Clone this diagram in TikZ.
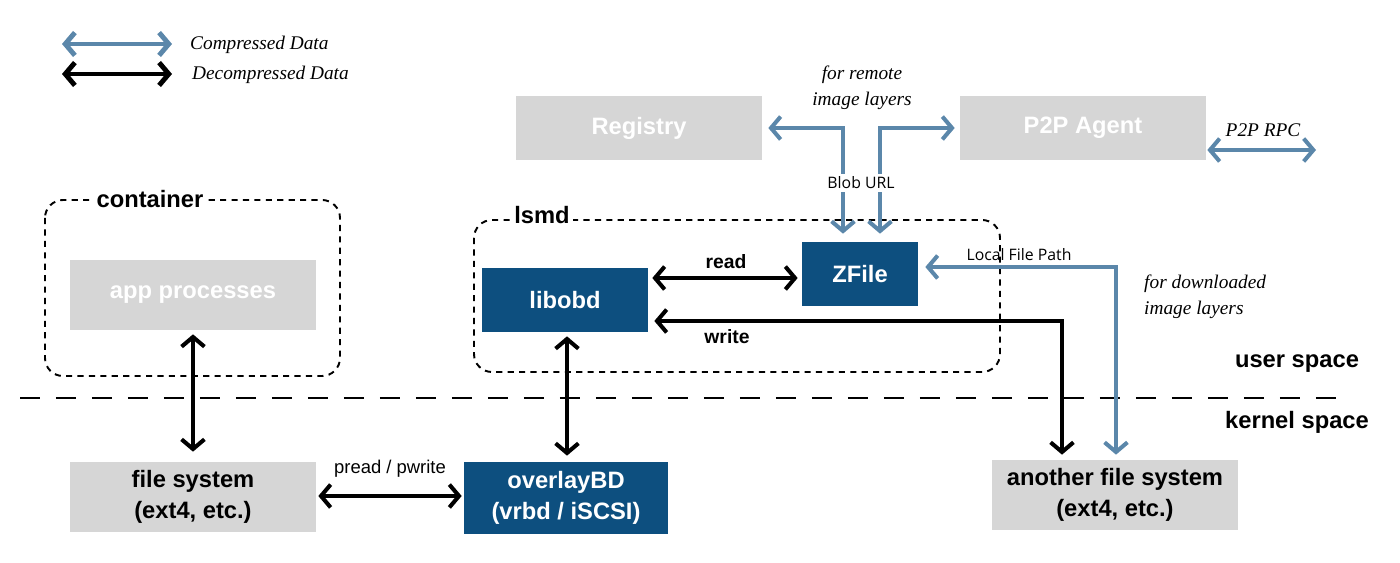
\documentclass[tikz,border=0pt]{standalone}
\usepackage{fontspec}
\setmainfont{Liberation Sans}
\newfontfamily\notefont{Liberation Serif}
\newfontfamily\tagfont{Open Sans}
\usetikzlibrary{arrows.meta}

\definecolor{boxgray}{HTML}{D6D6D6}
\definecolor{obdblue}{HTML}{0D4F7F}
\definecolor{zipblue}{HTML}{5B87AA}

\tikzset{
  box/.style={rectangle, fill=boxgray, text=white, inner sep=0pt, align=center,
    font=\fontsize{13.5}{17.5}\selectfont\bfseries},
  fsbox/.style={box, text=black},
  obdbox/.style={box, fill=obdblue},
  barb/.tip={Straight Barb[length=5.5pt, width=13pt]},
  comp/.style={draw=zipblue, line width=2.3pt, barb-barb},
  dec/.style={draw=black, line width=2.3pt, barb-barb},
  frame/.style={draw, line width=1.1pt, dash pattern=on 3.5pt off 3pt, rounded corners=0.36cm},
  note/.style={font=\notefont\itshape\fontsize{11}{14.7}\selectfont},
  tag/.style={font=\tagfont\fontsize{9}{11}\selectfont},
  op/.style={font=\fontsize{11}{13}\selectfont\bfseries},
}

\begin{document}
\begin{tikzpicture}[x=0.02cm, y=-0.02cm]
  \useasboundingbox (0,0) rectangle (1400,563);

  % legend
  \coordinate (lc1) at (62,44);  \coordinate (lc2) at (172,44);
  \coordinate (ld1) at (62,74);  \coordinate (ld2) at (172,74);
  \draw[comp, line width=2.8pt] (lc1) -- (lc2);
  \draw[dec, line width=2.8pt] (ld1) -- (ld2);
  \node[note, anchor=west] (lgc) at (184,45) {Compressed Data};
  \node[note, anchor=west] (lgd) at (186,75) {Decompressed Data};

  % user / kernel split
  \coordinate (sp1) at (20,398); \coordinate (sp2) at (1340,398);
  \draw[line width=1.4pt, dash pattern=on 0.4cm off 0.32cm] (sp1) -- (sp2);
  \node[font=\fontsize{13.5}{16}\selectfont\bfseries] (us) at (1297,364) {user space};
  \node[font=\fontsize{13.5}{16}\selectfont\bfseries] (ks) at (1297,422) {kernel space};

  % frames
  \draw[frame] (45,200) rectangle (340,376);
  \node[fill=white, inner xsep=2pt, inner ysep=0pt, font=\fontsize{13.5}{16}\selectfont\bfseries]
    (ctr) at (150,199) {container};
  \draw[frame] (474,220) rectangle (1000,372);
  \node[fill=white, inner xsep=2pt, inner ysep=0pt, font=\fontsize{13.5}{16}\selectfont\bfseries]
    (lsmd) at (542,215) {lsmd};

  % boxes
  \node[box, minimum width=4.92cm, minimum height=1.28cm] (reg) at (639,128) {Registry};
  \node[box, minimum width=4.92cm, minimum height=1.28cm] (p2p) at (1083,128) {P2P Agent};
  \node[box, minimum width=4.92cm, minimum height=1.40cm] (app) at (193,295) {app processes};
  \node[fsbox, minimum width=4.92cm, minimum height=1.40cm] (fs) at (193,497) {file system\\(ext4, etc.)};
  \node[obdbox, minimum width=3.32cm, minimum height=1.28cm] (obd) at (565,300) {libobd};
  \node[obdbox, minimum width=2.32cm, minimum height=1.28cm] (zf) at (860,274) {ZFile};
  \node[obdbox, minimum width=4.08cm, minimum height=1.44cm] (ovl) at (566,498) {overlayBD\\(vrbd / iSCSI)};
  \node[fsbox, minimum width=4.92cm, minimum height=1.40cm] (afs) at (1115,495) {another file system\\(ext4, etc.)};

  % compressed paths
  \draw[comp, shorten <=0.12cm, shorten >=0.16cm] (reg.east) -| ([xshift=-0.34cm]zf.north);
  \draw[comp, shorten <=0.1cm, shorten >=0.16cm] (p2p.west) -| ([xshift=0.4cm]zf.north);
  \node[tag, fill=white, inner sep=1.5pt] (blob) at (861,183) {Blob URL};
  \node[note, align=center] (remote) at (862,88) {for remote\\image layers};
  \coordinate (rpc) at (1316,150);
  \draw[comp, shorten <=0.02cm] (p2p.east |- rpc) -- (rpc);
  \node[note] (rpcl) at (1263,130) {P2P RPC};
  \draw[comp, shorten <=0.14cm, shorten >=0.1cm] (zf.east |- 0,267) -| ([xshift=0.02cm]afs.north);
  \node[tag] (lfp) at (1019,255) {Local File Path};
  \node[note, anchor=west, align=left] (dl) at (1138,297) {for downloaded\\image layers};

  % decompressed paths
  \draw[dec, shorten <=0.08cm, shorten >=0.08cm] (obd.east |- 0,278) -- (zf.west |- 0,278);
  \node[op] (rd) at (726,262) {read};
  \draw[dec, shorten <=0.12cm, shorten >=0.1cm] (obd.east |- 0,321) -| ([xshift=-1.06cm]afs.north);
  \node[op] (wr) at (727,337) {write};
  \draw[dec, shorten <=0.08cm, shorten >=0.2cm] (app.south) -- (fs.north);
  \draw[dec, shorten <=0.08cm, shorten >=0.12cm] (obd.south -| 567,0) -- (ovl.north -| 567,0);
  \draw[dec, shorten <=0.04cm, shorten >=0.04cm] (fs.east |- 0,496) -- (ovl.west |- 0,496);
  \node[font=\fontsize{10.5}{12}\selectfont] (pp) at (390,469) {pread / pwrite};
\end{tikzpicture}
\end{document}
